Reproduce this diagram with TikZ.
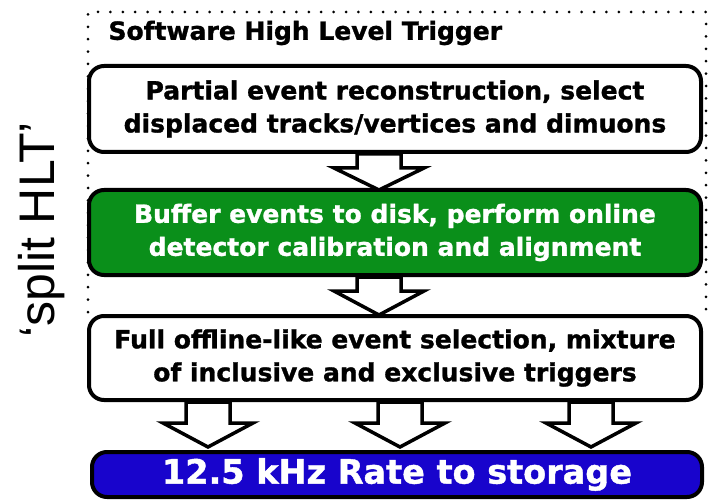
\documentclass[tikz,border=0pt]{standalone}
\usepackage{fontspec}
\setmainfont{DejaVu Sans}[BoldFeatures={FakeBold=1.2}]
\newfontfamily\arialf{Liberation Sans}
\usetikzlibrary{calc}
\definecolor{boxgreen}{RGB}{10,143,26}
\definecolor{boxblue}{RGB}{24,4,204}
\tikzset{
  stagebox/.style={draw=black, line width=4pt, rounded corners=15pt, minimum width=612pt,
    align=center, font=\bfseries\fontsize{25}{33}\selectfont, inner sep=0pt},
  arrowbox/.style={draw=black, fill=white, line width=3.5pt, line join=miter},
  frame/.style={line width=3pt, dash pattern=on 0pt off 12.4pt, line cap=round}
}
\newcommand\fatarrow[3]{% top y, tip coordinate, head height
  \draw[arrowbox] let \p1=#1, \p2=#2 in
    (\x2-22pt,\y1) -- (\x2+22pt,\y1) -- (\x2+22pt,\y2+#3) -- (\x2+45pt,\y2+#3)
    -- (\x2,\y2) -- (\x2-45pt,\y2+#3) -- (\x2-22pt,\y2+#3) -- cycle;}
\begin{document}
\begin{tikzpicture}[x=1pt,y=-1pt]
\useasboundingbox (0,0) rectangle (710,500);
% dotted frame
\coordinate (fbl) at (88,312);
\coordinate (ftl) at (88,12);
\coordinate (ftr) at (706,12);
\coordinate (fbr) at (706,312);
\draw[frame] (fbl) -- (ftl) -- (ftr) -- (fbr);
\node[anchor=west, font=\bfseries\fontsize{25}{28}\selectfont] (title) at (105,33) {Software High Level Trigger};
% boxes
\node[stagebox, fill=white, minimum height=86pt] (b1) at (395,109)
  {Partial event reconstruction, select\\displaced tracks/vertices and dimuons};
\node[stagebox, fill=boxgreen, text=white, minimum height=85pt] (b2) at (395,232.5)
  {Buffer events to disk, perform online\\detector calibration and alignment};
\node[stagebox, fill=white, minimum height=84pt] (b3) at (395,358)
  {Full offline-like event selection, mixture\\of inclusive and exclusive triggers};
\node[stagebox, fill=boxblue, text=white, minimum height=45pt, minimum width=610pt,
  font=\bfseries\fontsize{33.5}{36}\selectfont] (b4) at (397,474.5) {12.5 kHz Rate to storage};
% arrows
\coordinate (a1) at (379,190);
\coordinate (a2) at (379,315);
\coordinate (a3) at (208,447);
\coordinate (a4) at (400,447);
\coordinate (a5) at (591,447);
\fatarrow{(b1.south)}{(a1)}{22pt}
\fatarrow{(b2.south)}{(a2)}{24pt}
\fatarrow{(b3.south)}{(a3)}{24pt}
\fatarrow{(b3.south)}{(a4)}{24pt}
\fatarrow{(b3.south)}{(a5)}{24pt}
% side label
\node[rotate=90, font=\arialf\fontsize{50}{56}\selectfont] (side) at (42,230) {‘split HLT’};
\end{tikzpicture}
\end{document}
